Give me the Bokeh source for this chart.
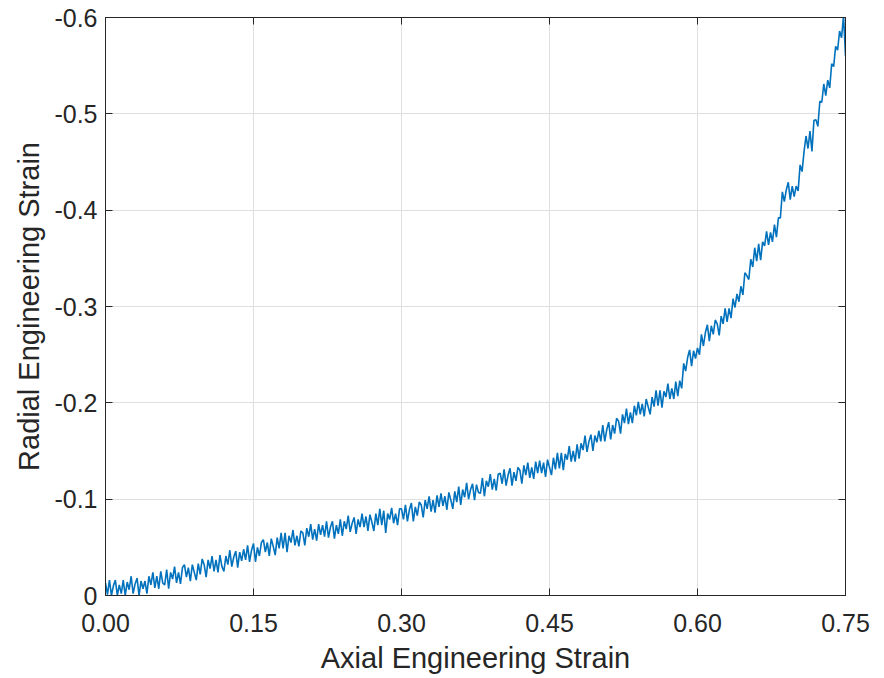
import numpy as np
from bokeh.plotting import figure
from bokeh.models import Range1d, FixedTicker, LinearAxis
from bokeh.embed import file_html
from bokeh.resources import INLINE

# Axial engineering strain (thousandths) and radial engineering strain (thousandths)
axial_milli = [
    0, 2, 4, 6, 8, 10, 12, 14, 16, 18,
    20, 22, 24, 26, 28, 30, 32, 34, 36, 38,
    40, 42, 44, 46, 48, 50, 52, 54, 56, 58,
    60, 62, 64, 66, 68, 70, 72, 74, 76, 78,
    80, 82, 84, 86, 88, 90, 92, 94, 96, 98,
    100, 102, 104, 106, 108, 110, 112, 114, 116, 118,
    120, 122, 124, 126, 128, 130, 132, 134, 136, 138,
    140, 142, 144, 146, 148, 150, 152, 154, 156, 158,
    160, 162, 164, 166, 168, 170, 172, 174, 176, 178,
    180, 182, 184, 186, 188, 190, 192, 194, 196, 198,
    200, 202, 204, 206, 208, 210, 212, 214, 216, 218,
    220, 222, 224, 226, 228, 230, 232, 234, 236, 238,
    240, 242, 244, 246, 248, 250, 252, 254, 256, 258,
    260, 262, 264, 266, 268, 270, 272, 274, 276, 278,
    280, 282, 284, 286, 288, 290, 292, 294, 296, 298,
    300, 302, 304, 306, 308, 310, 312, 314, 316, 318,
    320, 322, 324, 326, 328, 330, 332, 334, 336, 338,
    340, 342, 344, 346, 348, 350, 352, 354, 356, 358,
    360, 362, 364, 366, 368, 370, 372, 374, 376, 378,
    380, 382, 384, 386, 388, 390, 392, 394, 396, 398,
    400, 402, 404, 406, 408, 410, 412, 414, 416, 418,
    420, 422, 424, 426, 428, 430, 432, 434, 436, 438,
    440, 442, 444, 446, 448, 450, 452, 454, 456, 458,
    460, 462, 464, 466, 468, 470, 472, 474, 476, 478,
    480, 482, 484, 486, 488, 490, 492, 494, 496, 498,
    500, 502, 504, 506, 508, 510, 512, 514, 516, 518,
    520, 522, 524, 526, 528, 530, 532, 534, 536, 538,
    540, 542, 544, 546, 548, 550, 552, 554, 556, 558,
    560, 562, 564, 566, 568, 570, 572, 574, 576, 578,
    580, 582, 584, 586, 588, 590, 592, 594, 596, 598,
    600, 602, 604, 606, 608, 610, 612, 614, 616, 618,
    620, 622, 624, 626, 628, 630, 632, 634, 636, 638,
    640, 642, 644, 646, 648, 650, 652, 654, 656, 658,
    660, 662, 664, 666, 668, 670, 672, 674, 676, 678,
    680, 682, 684, 686, 688, 690, 692, 694, 696, 698,
    700, 702, 704, 706, 708, 710, 712, 714, 716, 718,
    720, 722, 724, 726, 728, 730, 732, 734, 736, 738,
    740, 742, 744, 746, 748, 750,
]
radial_milli = [
    -13, -1, -16, 0, -10, -16, 0, -11, -2, -16,
    0, -14, -6, -20, -2, -12, -18, 0, -15, -7,
    -15, -2, -20, -11, -24, -8, -20, -7, -25, -13,
    -11, -27, -7, -24, -17, -30, -13, -24, -12, -29,
    -32, -19, -29, -15, -32, -24, -16, -33, -22, -38,
    -32, -19, -37, -28, -41, -25, -37, -24, -42, -30,
    -25, -41, -32, -47, -30, -40, -46, -29, -45, -36,
    -48, -37, -52, -35, -47, -54, -35, -50, -41, -55,
    -58, -45, -55, -41, -59, -51, -42, -60, -49, -65,
    -49, -65, -45, -62, -55, -68, -52, -62, -51, -67,
    -65, -52, -70, -61, -74, -58, -69, -57, -74, -63,
    -73, -61, -77, -60, -71, -77, -59, -73, -64, -79,
    -62, -77, -69, -83, -66, -75, -81, -64, -79, -71,
    -85, -71, -82, -67, -84, -76, -67, -85, -73, -90,
    -73, -88, -65, -85, -79, -91, -75, -85, -73, -90,
    -90, -79, -94, -77, -89, -96, -77, -92, -83, -97,
    -94, -81, -99, -90, -103, -87, -99, -86, -104, -92,
    -106, -93, -103, -89, -107, -99, -90, -108, -97, -113,
    -94, -110, -102, -117, -100, -110, -116, -99, -115, -107,
    -106, -122, -103, -119, -113, -126, -110, -121, -109, -126,
    -127, -116, -131, -114, -125, -132, -114, -128, -119, -133,
    -130, -116, -135, -125, -138, -122, -133, -121, -139, -127,
    -140, -127, -138, -123, -141, -133, -125, -143, -131, -148,
    -132, -148, -130, -147, -141, -155, -139, -150, -139, -157,
    -142, -158, -151, -166, -149, -160, -167, -150, -166, -159,
    -171, -160, -177, -160, -172, -180, -162, -177, -168, -184,
    -181, -168, -188, -179, -194, -178, -190, -179, -197, -187,
    -201, -188, -199, -186, -204, -196, -188, -206, -196, -213,
    -197, -213, -195, -212, -206, -220, -204, -215, -204, -222,
    -207, -223, -215, -241, -233, -247, -255, -238, -254, -246,
    -257, -250, -271, -259, -273, -281, -264, -280, -271, -286,
    -282, -270, -290, -282, -298, -284, -298, -288, -308, -299,
    -313, -305, -321, -312, -335, -332, -328, -349, -341, -361,
    -347, -365, -348, -367, -363, -378, -364, -377, -367, -385,
    -372, -392, -392, -419, -409, -421, -429, -411, -425, -414,
    -425, -420, -447, -440, -461, -477, -464, -482, -461, -493,
    -494, -487, -513, -512, -531, -519, -535, -527, -552, -549,
    -570, -566, -586, -579, -602, -560,
]

x_ticks = [0.0, 0.15, 0.30, 0.45, 0.60, 0.75]
x_tick_labels = ["0.00", "0.15", "0.30", "0.45", "0.60", "0.75"]
y_ticks = [0.0, -0.1, -0.2, -0.3, -0.4, -0.5, -0.6]
y_tick_labels = ["0", "-0.1", "-0.2", "-0.3", "-0.4", "-0.5", "-0.6"]

axial = np.array(axial_milli) / 1000.0
radial = np.array(radial_milli) / 1000.0

FONT = "Liberation Sans"
TXT = "#262626"
AX = "#262626"

p = figure(width=876, height=676, output_backend="svg", toolbar_location=None,
           x_range=Range1d(0, 0.75), y_range=Range1d(0, -0.6),
           min_border_left=105, min_border_right=31, min_border_top=17, min_border_bottom=78)

p.line(axial, radial, line_color="#0072BD", line_width=1.6)

p.outline_line_color = AX
p.outline_line_width = 1
p.background_fill_color = "white"
p.border_fill_color = "white"

p.xgrid.ticker = FixedTicker(ticks=x_ticks)
p.ygrid.ticker = FixedTicker(ticks=y_ticks)
p.xgrid.grid_line_color = "#dfdfdf"
p.ygrid.grid_line_color = "#dfdfdf"

xa = p.xaxis[0]
xa.ticker = FixedTicker(ticks=x_ticks)
xa.major_label_overrides = {t: l for t, l in zip(x_ticks, x_tick_labels)}
ya = p.yaxis[0]
ya.ticker = FixedTicker(ticks=y_ticks)
ya.major_label_overrides = {t: l for t, l in zip(y_ticks, y_tick_labels)}

for ax in (xa, ya):
    ax.major_tick_in = 7
    ax.major_tick_out = 0
    ax.minor_tick_line_color = None
    ax.axis_line_color = AX
    ax.major_tick_line_color = AX
    ax.major_label_text_font = FONT
    ax.major_label_text_font_size = "25px"
    ax.major_label_text_color = TXT
    ax.axis_label_text_font = FONT
    ax.axis_label_text_font_size = "29px"
    ax.axis_label_text_font_style = "normal"
    ax.axis_label_text_color = TXT

xa.axis_label = "Axial Engineering Strain"
ya.axis_label = "Radial Engineering Strain"
xa.major_label_standoff = 18
ya.major_label_standoff = 8
xa.axis_label_standoff = 7
ya.axis_label_standoff = 6

for loc, ticks in (("above", x_ticks), ("right", y_ticks)):
    ax = LinearAxis(ticker=FixedTicker(ticks=ticks), major_label_text_font_size="1px",
                    major_label_text_color=None, major_label_standoff=0,
                    major_tick_in=7, major_tick_out=0, minor_tick_line_color=None,
                    axis_line_color=AX, major_tick_line_color=AX)
    p.add_layout(ax, loc)

open("out.html", "w").write(file_html(p, INLINE))
